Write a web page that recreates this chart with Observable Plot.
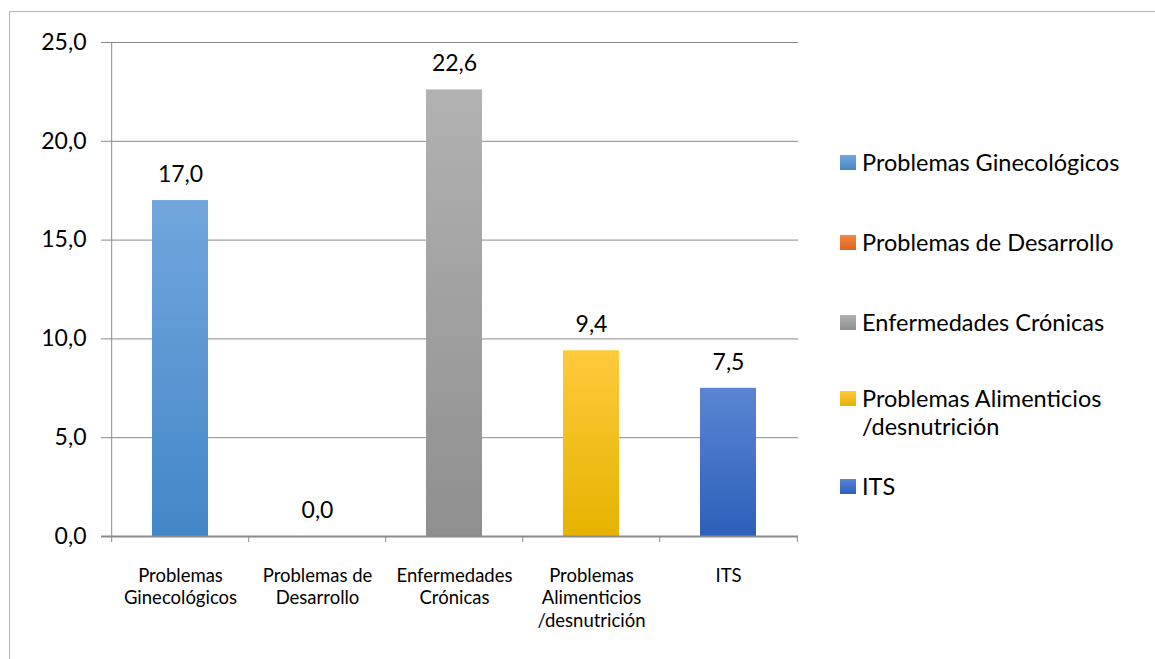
<!DOCTYPE html>
<html>
<head>
<meta charset="utf-8">
<script src="https://cdn.jsdelivr.net/npm/d3@7"></script>
<script src="https://cdn.jsdelivr.net/npm/@observablehq/plot@0.6"></script>
<style>
  html, body { margin: 0; padding: 0; background: #fff; }
  #wrap { position: relative; width: 1155px; height: 659px; overflow: hidden; font-family: Lato, "Open Sans", sans-serif; }
  #border { position: absolute; left: 9px; top: 11px; width: 1160px; height: 660px; border-left: 1px solid #b4b4b4; border-top: 1px solid #b4b4b4; }
  #chart { position: absolute; left: 0; top: 0; }
  #legend { position: absolute; left: 840px; top: 148px; font-size: 23.5px; color: #000; }
  .item { position: absolute; left: 0; white-space: nowrap; }
  .sw { position: absolute; left: 0; top: 7px; width: 16px; height: 15px; }
  .lab { position: absolute; left: 22px; top: 0; line-height: 28px; height: 28px; white-space: nowrap; }
</style>
</head>
<body>
<div id="wrap">
  <div id="border"></div>
  <div id="chart"></div>
  <div id="legend"></div>
</div>
<script>
// ---- data ----
const categories = ["Problemas Ginecológicos", "Problemas de Desarrollo", "Enfermedades Crónicas", "Problemas Alimenticios /desnutrición", "ITS"];
const axisLabels = ["Problemas\nGinecológicos", "Problemas de\nDesarrollo", "Enfermedades\nCrónicas", "Problemas\nAlimenticios\n/desnutrición", "ITS"];
const values = [17.0, 0.0, 22.6, 9.4, 7.5];
const yTicks = [0, 5, 10, 15, 20, 25];
const legendLabels = [["Problemas Ginecológicos"], ["Problemas de Desarrollo"], ["Enfermedades Crónicas"], ["Problemas Alimenticios", "/desnutrición"], ["ITS"]];
// gradient colours: [top, bottom]
const gradients = [["#72a6dd", "#4387c8"], ["#f58a45", "#e0621c"], ["#b2b2b2", "#8f8f8f"], ["#ffca3c", "#e6b300"], ["#5a85d3", "#2e5fba"]];

const data = categories.map((c, i) => ({cat: c, value: values[i], idx: i}));
const fmt = v => d3.format(".1f")(v).replace(".", ",");

const W = 820, H = 659, ML = 110, MR = 22, MT = 42, MB = 123;
const step = (W - ML - MR) / categories.length;
const gridColor = "#8a8a8a";

const plot = Plot.plot({
  width: W, height: H,
  marginLeft: ML, marginRight: MR, marginTop: MT, marginBottom: MB,
  style: {fontFamily: "Lato, 'Open Sans', sans-serif", background: "transparent", overflow: "visible"},
  x: {domain: categories, paddingInner: 0.59, paddingOuter: 0.295, label: null},
  y: {domain: [0, 25], label: null},
  color: {type: "identity"},
  marks: [
    Plot.ruleY(yTicks.filter(d => d > 0), {y: d => d, stroke: gridColor, strokeWidth: 1, insetLeft: -9}),
    Plot.barY(data, {x: "cat", y: "value", fill: d => `url(#grad${d.idx})`, filter: d => d.value > 0,
      style: "filter: drop-shadow(2px 2px 2px rgba(0,0,0,0.35))"}),
    Plot.ruleY([0], {stroke: gridColor, strokeWidth: 2, insetLeft: -9}),
    Plot.ruleX([categories[0]], {x: d => d, y1: 0, y2: 25, dx: -step / 2, stroke: gridColor, strokeWidth: 1}),
    Plot.axisY({ticks: yTicks, tickFormat: fmt, tickSize: 0, tickPadding: 24, fontSize: 23, fill: "#000", stroke: null}),
    Plot.axisX({tickFormat: () => "", tickSize: 6, dx: -step / 2, stroke: gridColor, tickPadding: 0}),
    Plot.axisX({ticks: [categories[categories.length - 1]], tickFormat: () => "", tickSize: 6, dx: step / 2, stroke: gridColor}),
    Plot.axisX({tickFormat: (d) => axisLabels[categories.indexOf(d)], tickSize: 0, tickPadding: 29, fontSize: 18.5, lineHeight: 1.22, fill: "#000"}),
    Plot.text(data, {x: "cat", y: "value", text: d => fmt(d.value), dy: -26, fontSize: 23, fill: "#000"})
  ]
});

// gradient defs
const svg = d3.select(plot);
const defs = svg.insert("defs", ":first-child");
gradients.forEach((g, i) => {
  const lg = defs.append("linearGradient").attr("id", `grad${i}`).attr("x1", 0).attr("y1", 0).attr("x2", 0).attr("y2", 1);
  lg.append("stop").attr("offset", "0%").attr("stop-color", g[0]);
  lg.append("stop").attr("offset", "100%").attr("stop-color", g[1]);
});
document.getElementById("chart").appendChild(plot);

// legend
const legendTops = [0, 80, 160, 236, 324];
const leg = document.getElementById("legend");
legendLabels.forEach((lines, i) => {
  const it = document.createElement("div");
  it.className = "item";
  it.style.top = legendTops[i] + "px";
  const sw = document.createElement("div");
  sw.className = "sw";
  sw.style.background = `linear-gradient(${gradients[i][0]}, ${gradients[i][1]})`;
  it.appendChild(sw);
  lines.forEach((t, j) => {
    const lab = document.createElement("div");
    lab.className = "lab";
    lab.style.top = (j * 28) + "px";
    lab.textContent = t;
    it.appendChild(lab);
  });
  leg.appendChild(it);
});
</script>
</body>
</html>
